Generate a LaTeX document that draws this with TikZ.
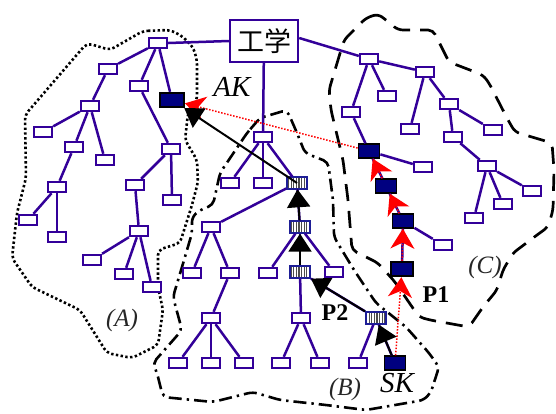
\documentclass[tikz,border=0pt]{standalone}
\usepackage{fontspec}
\setmainfont{Liberation Serif}
\newfontfamily\cjk{Noto Sans CJK SC}
\usetikzlibrary{arrows.meta,patterns.meta}
\definecolor{treecol}{RGB}{51,0,153}
\definecolor{darkbox}{RGB}{0,0,128}
\definecolor{hatchb}{RGB}{30,30,150}
\begin{document}
\begin{tikzpicture}[x=1pt,y=-1pt,
  leaf/.style={draw=treecol, line width=2.4pt, fill=white, minimum width=18pt, minimum height=10pt, inner sep=0pt},
  dark/.style={draw=black, line width=1.8pt, fill=darkbox, minimum width=21pt, minimum height=13.5pt, inner sep=0pt},
  hatch/.style={draw=hatchb, line width=1.8pt, preaction={fill=white}, pattern={Lines[angle=90,distance=2.6pt,line width=1.1pt]}, pattern color=black!70, minimum width=20.5pt, minimum height=11.5pt, inner sep=0pt},
  edge/.style={draw=treecol, line width=2.5pt},
  barrow/.style={draw=black, line width=2pt, -{Triangle[width=23pt,length=18pt]}},
  rarrow/.style={draw=red, line width=1.5pt, dash pattern=on 1.5pt off 1.6pt, -{Stealth[width=24pt,length=20pt,inset=6pt]}},
  regA/.style={draw=black, line width=2.6pt, dash pattern=on 2.4pt off 2.4pt, rounded corners=5pt},
  regB/.style={draw=black, line width=2.6pt, dash pattern=on 13pt off 5pt on 2.4pt off 5pt, rounded corners=5pt},
  regC/.style={draw=black, line width=2.7pt, dash pattern=on 17pt off 10pt, rounded corners=5pt},
  reglab/.style={font=\itshape\fontsize{25}{25}\selectfont, text=black!85, inner sep=0pt},
  klab/.style={font=\itshape\fontsize{29}{29}\selectfont, inner sep=0pt},
  plab/.style={font=\bfseries\fontsize{24}{24}\selectfont, inner sep=0pt}
]
\fill[white] (0,0) rectangle (556,413);
\useasboundingbox (0,0) rectangle (556,413);

% regions
\draw[regA] (143,31) -- (170,30) -- (182,36) -- (193,47) -- (197,60) -- (197,100) -- (188,113) -- (185,140) -- (197,160) -- (198,182) -- (192,205) -- (180,243) -- (158,250) -- (158,287) -- (163,310) -- (158,345) -- (132,358) -- (107,353) -- (80,310) -- (32,287) -- (12,258) -- (17,213) -- (26,178) -- (25,115) -- (87,43) -- (110,50) -- cycle;
\draw[regB] (247,133) -- (260,118) -- (287,110) -- (297,133) -- (305,153) -- (328,162) -- (333,200) -- (334,237) -- (354,270) -- (376,303) -- (406,327) -- (429,353) -- (439,367) -- (431,392) -- (424,400) -- (366,410) -- (326,405) -- (280,400) -- (253,392) -- (213,402) -- (163,397) -- (157,373) -- (153,363) -- (182,330) -- (173,297) -- (182,267) -- (192,233) -- (192,217) -- (200,210) -- (213,205) -- (220,173) -- cycle;
\draw[regC] (366,18) -- (378,14) -- (386,20) -- (398,30) -- (433,30) -- (449,62) -- (483,75) -- (489,83) -- (508,120) -- (515,132) -- (542,140) -- (552,143) -- (554,170) -- (553,210) -- (548,227) -- (537,235) -- (513,253) -- (503,270) -- (497,290) -- (483,307) -- (469,327) -- (430,320) -- (419,317) -- (395,282) -- (378,263) -- (352,250) -- (348,200) -- (343,160) -- (331,110) -- (329,90) -- (344,40) -- (351,33) -- cycle;

% root
\node[draw=treecol, line width=2.4pt, fill=white, minimum width=68pt, minimum height=42pt, inner sep=0pt, font=\cjk\fontsize{27}{27}\selectfont] (root) at (264,41) {工学};

% A tree
\node[leaf] (a0) at (158,43) {};
\node[leaf] (a1) at (108,69) {};
\node[leaf] (a2) at (139,86) {};
\node[dark, minimum width=24pt, minimum height=14.5pt] (ak) at (172,100) {};
\node[leaf] (a11) at (90,106) {};
\node[leaf] (a111) at (43,132) {};
\node[leaf] (a112) at (74,147) {};
\node[leaf] (a113) at (105,160) {};
\node[leaf] (a1121) at (57,187) {};
\node[leaf] (a11211) at (28,220) {};
\node[leaf] (a11212) at (57,237) {};
\node[leaf] (a21) at (171,149) {};
\node[leaf] (a211) at (135,185) {};
\node[leaf] (a212) at (172,200) {};
\node[leaf] (a2111) at (139,231) {};
\node[leaf] (a21111) at (92,260) {};
\node[leaf] (a21112) at (124,274) {};
\node[leaf] (a21113) at (152,287) {};

% B tree
\node[leaf] (b0) at (263,137) {};
\node[leaf] (b1) at (230,183) {};
\node[leaf] (b2) at (263,183) {};
\node[hatch] (h1) at (297,183) {};
\node[leaf] (b3) at (211,227) {};
\node[hatch] (h2) at (300,227) {};
\node[leaf] (b31) at (192,273) {};
\node[leaf] (b32) at (230,273) {};
\node[leaf] (b321) at (211,318) {};
\node[leaf] (b3211) at (178,363) {};
\node[leaf] (b3212) at (211,363) {};
\node[leaf] (b3213) at (244,363) {};
\node[leaf] (b4) at (268,273) {};
\node[hatch] (h3) at (300,272) {};
\node[leaf] (b5) at (334,272) {};
\node[leaf] (b6) at (301,318) {};
\node[hatch] (h4) at (376,318) {};
\node[leaf] (b61) at (281,363) {};
\node[leaf] (b62) at (320,363) {};
\node[leaf] (b7) at (358,363) {};
\node[dark] (sk) at (395,363) {};

% C tree
\node[leaf] (c0) at (369,59) {};
\node[leaf] (c1) at (351,112) {};
\node[leaf] (c2) at (387,96) {};
\node[leaf] (c3) at (425,72) {};
\node[dark] (d1) at (369,151) {};
\node[leaf] (c11) at (423,167) {};
\node[dark] (d2) at (386,186) {};
\node[dark] (d3) at (403,221) {};
\node[leaf] (c31) at (443,245) {};
\node[dark, minimum width=22pt, minimum height=14.5pt] (d4) at (402,269) {};
\node[leaf] (c4) at (410,129) {};
\node[leaf] (c5) at (449,104) {};
\node[leaf] (c51) at (493,130) {};
\node[leaf] (c52) at (453,137) {};
\node[leaf] (c521) at (487,166) {};
\node[leaf] (c5211) at (532,191) {};
\node[leaf] (c5212) at (503,204) {};
\node[leaf] (c5213) at (474,218) {};

% edges
\draw[edge] (a0.east) -- (root.west);
\draw[edge] ([yshift=3pt]root.east) -- (c0);
\draw[edge] (root) -- (b0);
\foreach \p/\c in {a0/a1, a0/a2, a0/ak, a1/a11, a11/a111, a11/a112, a11/a113, a112/a1121, a1121/a11211, a1121/a11212, a2/a21, a21/a211, a21/a212, a211/a2111, a2111/a21111, a2111/a21112, a2111/a21113,
  b0/b1, b0/b2, b0/h1, h1/b3, h1/h2, b3/b31, b3/b32, b32/b321, b321/b3211, b321/b3212, b321/b3213, h2/b4, h2/h3, h2/b5, h3/b6, h3/h4, b6/b61, b6/b62, h4/b7, h4/sk,
  c0/c1, c0/c2, c0/c3, c1/d1, d1/c11, d1/d2, d2/d3, d3/c31, d3/d4, c3/c4, c3/c5, c5/c51, c5/c52, c52/c521, c521/c5211, c521/c5212, c521/c5213}
  \draw[edge] (\p) -- (\c);

% red path
\draw[rarrow] (sk) -- (d4);
\draw[rarrow] (d4) -- (d3);
\draw[rarrow] (d3) -- (d2);
\draw[rarrow] (d2) -- (d1);
\draw[rarrow] (d1) -- (ak);

% black path
\draw[barrow] (sk) -- (h4);
\draw[barrow] (h4) -- (h3);
\draw[barrow] (h3) -- (h2);
\draw[barrow] (h2) -- (h1);
\draw[barrow] (h1.center) -- (ak);

% labels
\node[klab] (lak) at (232,87) {AK};
\node[klab] (lsk) at (397,383) {SK};
\node[plab] (lp1) at (436,295) {P1};
\node[plab] (lp2) at (335,313) {P2};
\node[reglab] (la) at (122,320) {(A)};
\node[reglab] (lb) at (345,389) {(B)};
\node[reglab] (lc) at (485,267) {(C)};
\end{tikzpicture}
\end{document}
